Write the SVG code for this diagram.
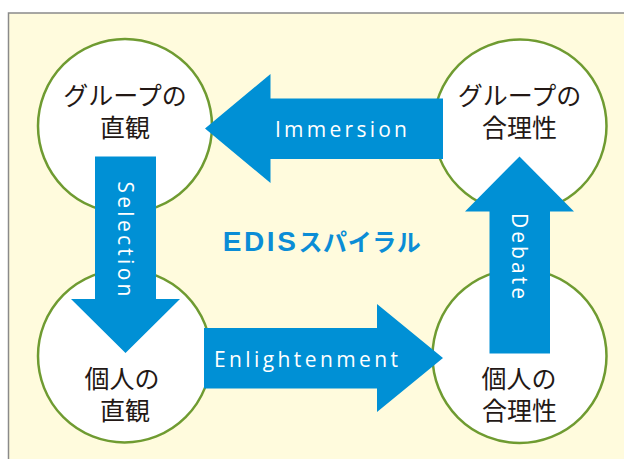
<svg xmlns="http://www.w3.org/2000/svg" width="624" height="459" viewBox="0 0 624 459">
  <style>
    .node { fill: #ffffff; stroke: #6f9b31; stroke-width: 2.5; }
    .jp { font-family: "Noto Sans CJK JP", "Noto Sans", sans-serif; font-size: 25px; fill: #231815; text-anchor: middle; }
    .arrow { fill: #0090d5; }
    .lbl { font-family: "Open Sans", "Liberation Sans", Arial, sans-serif; font-size: 21px; fill: #ffffff; text-anchor: middle; }
    .title { fill: #0b8dd6; font-weight: bold; }
  </style>
  <rect x="8.5" y="13" width="620" height="450" fill="#fffbdd" stroke="#8a8a8a" stroke-width="1.5"/>

  <g id="group-intuition">
    <circle class="node" cx="125" cy="126" r="87"/>
    <text class="jp" x="125" y="105.3">グループの</text>
    <text class="jp" x="125" y="137">直観</text>
  </g>
  <g id="group-rationality">
    <circle class="node" cx="520" cy="126" r="86.5"/>
    <text class="jp" x="519.5" y="105.3">グループの</text>
    <text class="jp" x="519.5" y="137">合理性</text>
  </g>
  <g id="individual-intuition">
    <circle class="node" cx="124.5" cy="356" r="86.5"/>
    <text class="jp" x="122" y="387.8">個人の</text>
    <text class="jp" x="125" y="420.3">直観</text>
  </g>
  <g id="individual-rationality">
    <circle class="node" cx="519.5" cy="356" r="87"/>
    <text class="jp" x="519" y="387.5">個人の</text>
    <text class="jp" x="519.5" y="419.8">合理性</text>
  </g>

  <g id="connectors">
    <g id="immersion">
      <path class="arrow" d="M443,98.5 H270.5 V74 L205,128.5 L270.5,183 V159 H443 Z"/>
      <text class="lbl" x="341" y="137.3" textLength="132" lengthAdjust="spacing">Immersion</text>
    </g>
    <g id="selection">
      <path class="arrow" d="M95,156.5 V299 H71 L125.5,353 L180,299 H156 V156.5 Z"/>
      <text class="lbl" transform="translate(117.5,239) rotate(90)" x="0" y="0" textLength="115" lengthAdjust="spacing">Selection</text>
    </g>
    <g id="enlightenment">
      <path class="arrow" d="M204,328 H377 V304 L443,358 L377,412 V388.5 H204 Z"/>
      <text class="lbl" x="306" y="366.7" textLength="184" lengthAdjust="spacing">Enlightenment</text>
    </g>
    <g id="debate">
      <path class="arrow" d="M489.5,353.5 V211.5 H465 L519.5,156.5 L574,211.5 H550 V353.5 Z"/>
      <text class="lbl" transform="translate(512,256) rotate(90)" x="0" y="0" textLength="86" lengthAdjust="spacing">Debate</text>
    </g>
  </g>

  <g id="title">
    <text class="title" x="222.7" y="251.3"><tspan font-family="'Liberation Sans', Arial, sans-serif" font-size="28" letter-spacing="2.6">EDIS</tspan><tspan font-family="'Noto Sans CJK JP', sans-serif" font-size="24" letter-spacing="0.6">スパイラル</tspan></text>
  </g>
</svg>
